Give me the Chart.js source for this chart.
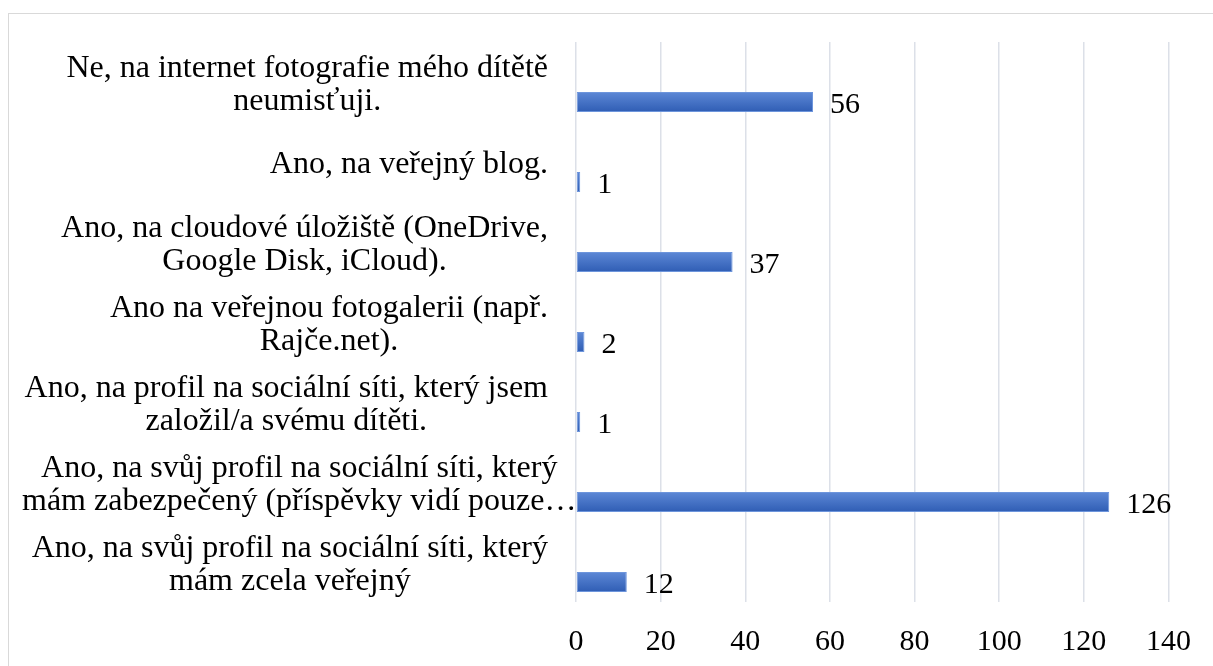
<!DOCTYPE html>
<html lang="cs">
<head>
<meta charset="utf-8">
<title>Umisťování fotografií dítěte na internet</title>
<script src="https://cdn.jsdelivr.net/npm/chart.js"></script>
<style>
  html, body { margin: 0; padding: 0; background: #fff; }
  #wrap { width: 1213px; height: 666px; position: relative; }
</style>
</head>
<body>
<div id="wrap"><canvas id="chart"></canvas></div>
<script>
// Data (top to bottom)
const CATEGORIES = [
  ['Ne, na internet fotografie mého dítětě', 'neumisťuji.'],
  ['Ano, na veřejný blog.'],
  ['Ano, na cloudové úložiště (OneDrive,', 'Google Disk, iCloud).'],
  ['Ano na veřejnou fotogalerii (např.', 'Rajče.net).'],
  ['Ano, na profil na sociální síti, který jsem', 'založil/a svému dítěti.'],
  ['Ano, na svůj profil na sociální síti, který', 'mám zabezpečený (příspěvky vidí pouze…'],
  ['Ano, na svůj profil na sociální síti, který', 'mám zcela veřejný'],
];
const COUNTS = [56, 1, 37, 2, 1, 126, 12];
const X_MIN = 0;
const X_MAX = 140;
const X_STEP = 20;

const FONT_FAMILY = "'Liberation Serif', 'Times New Roman', serif";
const LABEL_SIZE = 32;
const TICK_SIZE = 30;
const LINE_HEIGHT = 33;

// bars sit in the lower half of each band, like the Excel original
// (an empty first series takes the upper half)
function barGradient(ctx) {
  var chart = ctx.chart;
  var y = chart.scales && chart.scales.y;
  if (!y || ctx.dataIndex === undefined) return '#4472c4';
  var center = y.getPixelForValue(ctx.dataIndex);
  var band = y.height / CATEGORIES.length;
  var top = center + band * 0.125;
  var bottom = center + band * 0.375;
  if (!isFinite(top) || !isFinite(bottom) || bottom <= top) return '#4472c4';
  var g = chart.ctx.createLinearGradient(0, top, 0, bottom);
  g.addColorStop(0, '#5d88d6');
  g.addColorStop(1, '#2f5db4');
  return g;
}

const frameBox = {
  id: 'frameBox',
  beforeDraw: function (chart) {
    var c = chart.ctx;
    c.save();
    c.fillStyle = '#fff';
    c.fillRect(0, 0, chart.width, chart.height);
    c.strokeStyle = '#d9d9d9';
    c.lineWidth = 1;
    c.strokeRect(8.5, 13.5, chart.width + 50, chart.height + 50);
    c.restore();
  },
};

// category labels: block right aligned, lines centered within block
const categoryLabels = {
  id: 'categoryLabels',
  afterDraw: function (chart) {
    var c = chart.ctx;
    var y = chart.scales.y;
    var right = chart.chartArea.left - 28;
    c.save();
    c.font = LABEL_SIZE + 'px ' + FONT_FAMILY;
    c.fillStyle = '#000';
    c.textAlign = 'center';
    c.textBaseline = 'middle';
    CATEGORIES.forEach(function (lines, i) {
      var w = Math.max.apply(null, lines.map(function (l) { return c.measureText(l).width; }));
      // too wide blocks stick out to the right instead of leaving the frame
      var cx = Math.max(right - w / 2, 22 + w / 2);
      var cy = y.getPixelForValue(i) + 3;
      lines.forEach(function (line, j) {
        c.fillText(line, cx, cy + (j - (lines.length - 1) / 2) * LINE_HEIGHT);
      });
    });
    c.restore();
  },
};

const valueLabels = {
  id: 'valueLabels',
  afterDatasetsDraw: function (chart) {
    var c = chart.ctx;
    var meta = chart.getDatasetMeta(1);
    c.save();
    c.font = TICK_SIZE + 'px ' + FONT_FAMILY;
    c.fillStyle = '#000';
    c.textAlign = 'left';
    c.textBaseline = 'middle';
    meta.data.forEach(function (bar, i) {
      c.fillText(String(COUNTS[i]), bar.x + 17, bar.y + 3);
    });
    c.restore();
  },
};

new Chart(document.getElementById('chart'), {
  type: 'bar',
  data: {
    labels: CATEGORIES,
    datasets: [
      { label: '', data: CATEGORIES.map(function () { return null; }) },
      {
        label: 'Počet',
        data: COUNTS,
        backgroundColor: barGradient,
        borderColor: '#6d95dc',
        borderWidth: 1,
        borderSkipped: false,
      },
    ],
  },
  options: {
    indexAxis: 'y',
    responsive: true,
    maintainAspectRatio: false,
    animation: false,
    categoryPercentage: 1.0,
    barPercentage: 0.5,
    layout: { padding: { top: 42, right: 42, bottom: 0, left: 0 } },
    plugins: {
      legend: { display: false },
      tooltip: { enabled: false },
    },
    scales: {
      x: {
        min: X_MIN,
        max: X_MAX,
        border: { display: false },
        grid: { color: '#dce0e8', lineWidth: 1.5, drawTicks: false },
        ticks: {
          stepSize: X_STEP,
          padding: 22,
          color: '#000',
          font: { family: FONT_FAMILY, size: TICK_SIZE },
        },
        afterFit: function (scale) { scale.height = 64; },
      },
      y: {
        border: { display: false },
        grid: { display: false, drawTicks: false },
        ticks: { display: false },
        afterFit: function (scale) { scale.width = 576; },
      },
    },
  },
  plugins: [frameBox, categoryLabels, valueLabels],
});
</script>
</body>
</html>
